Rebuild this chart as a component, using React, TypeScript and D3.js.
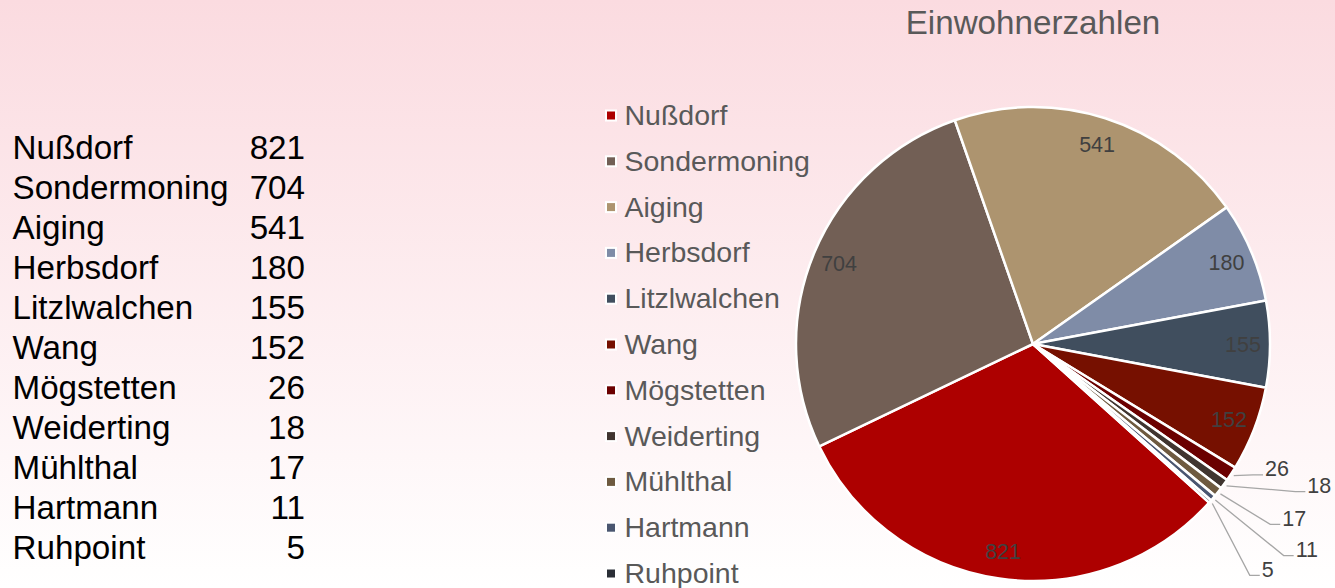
import React from "react";
import * as d3 from "d3";

const categories = ["Nußdorf", "Sondermoning", "Aiging", "Herbsdorf", "Litzlwalchen", "Wang", "Mögstetten", "Weiderting", "Mühlthal", "Hartmann", "Ruhpoint"];
const values = [821, 704, 541, 180, 155, 152, 26, 18, 17, 11, 5];
const colors = ["#ad0000", "#725f55", "#ad946f", "#7f8ca7", "#404e5e", "#761000", "#6b0000", "#403530", "#6e5a40", "#4a5670", "#2a2e36"];
const title = "Einwohnerzahlen";

// layout of outside labels for tiny slices: [angle offset (deg), radial extension (px)]
const leaderLayout: Record<string, [number, number]> = {
  "Mögstetten": [-2.5, 19],
  "Weiderting": [-6.9, 64],
  "Mühlthal": [-1.4, 61],
  "Hartmann": [-0.4, 91],
  "Ruhpoint": [5.2, 80],
};

const W = 1335;
const H = 588;
const FONT = "'Liberation Sans', Arial, Helvetica, sans-serif";

export default function App() {
  const cx = 1033;
  const cy = 344;
  const R = 237;
  const start = (132 * Math.PI) / 180;
  const rows = categories.map((c, i) => ({ name: c, value: values[i], color: colors[i] }));
  const pie = d3.pie<any>().sort(null).value((d: any) => d.value).startAngle(start).endAngle(start + 2 * Math.PI);
  const arcs = pie(rows);
  const arc = d3.arc<any>().innerRadius(0).outerRadius(R);
  const labelArc = d3.arc<any>().innerRadius(210).outerRadius(210);

  const legendY = d3.scalePoint<string>().domain(categories).range([115, 573]);
  const tableY = d3.scalePoint<string>().domain(categories).range([147, 547]);

  const polar = (a: number, r: number): [number, number] => [Math.sin(a) * r, -Math.cos(a) * r];

  return (
    <div style={{ position: "absolute", left: 0, top: 0 }}>
      <svg width={W} height={H} style={{ display: "block" }} fontFamily={FONT}>
        <defs>
          <linearGradient id="bg" x1="0" y1="0" x2="0" y2="1">
            <stop offset="0" stopColor="#fbdbe0" />
            <stop offset="1" stopColor="#ffffff" />
          </linearGradient>
        </defs>
        <rect x={0} y={0} width={W} height={H} fill="url(#bg)" />

        {/* left table */}
        <g fontSize={33.2} fill="#000">
          {rows.map((r) => (
            <g key={r.name}>
              <text x={12.5} y={(tableY(r.name) as number) + 12} textAnchor="start">{r.name}</text>
              <text x={305} y={(tableY(r.name) as number) + 12} textAnchor="end">{r.value}</text>
            </g>
          ))}
        </g>

        {/* title */}
        <text x={cx} y={34} textAnchor="middle" fontSize={33.2} fill="#595959">{title}</text>

        {/* legend */}
        <g>
          {rows.map((r) => {
            const y = legendY(r.name) as number;
            return (
              <g key={r.name}>
                <rect x={606} y={y - 4.5} width={10} height={10} fill={r.color} stroke="#ffffff" strokeWidth={2} />
                <text x={624.5} y={y + 10} fontSize={28.5} fill="#595959">{r.name}</text>
              </g>
            );
          })}
        </g>

        {/* pie */}
        <g transform={`translate(${cx},${cy})`}>
          {arcs.map((a) => (
            <path key={a.data.name} d={arc(a) as string} fill={a.data.color} stroke="#ffffff" strokeWidth={2.5} strokeLinejoin="round" />
          ))}
          {arcs.map((a) => {
            const lay = leaderLayout[a.data.name];
            if (lay) {
              const mid = (a.startAngle + a.endAngle) / 2;
              const [sx, sy] = polar(mid, R + 3);
              const [ex, ey] = polar(mid + (lay[0] * Math.PI) / 180, R + lay[1]);
              const path = d3.path();
              path.moveTo(sx, sy);
              path.lineTo(ex, ey);
              path.lineTo(ex + 10, ey);
              return (
                <g key={a.data.name}>
                  <path d={path.toString()} fill="none" stroke="#a6a6a6" strokeWidth={1.3} />
                  <text x={ex + 12} y={ey + 1.5} fontSize={21.5} fill="#404040">{a.data.value}</text>
                </g>
              );
            }
            const [lx, ly] = labelArc.centroid(a);
            return (
              <text key={a.data.name} x={lx} y={ly + 7.5} textAnchor="middle" fontSize={21.5} fill="#404040">{a.data.value}</text>
            );
          })}
        </g>
      </svg>
    </div>
  );
}
